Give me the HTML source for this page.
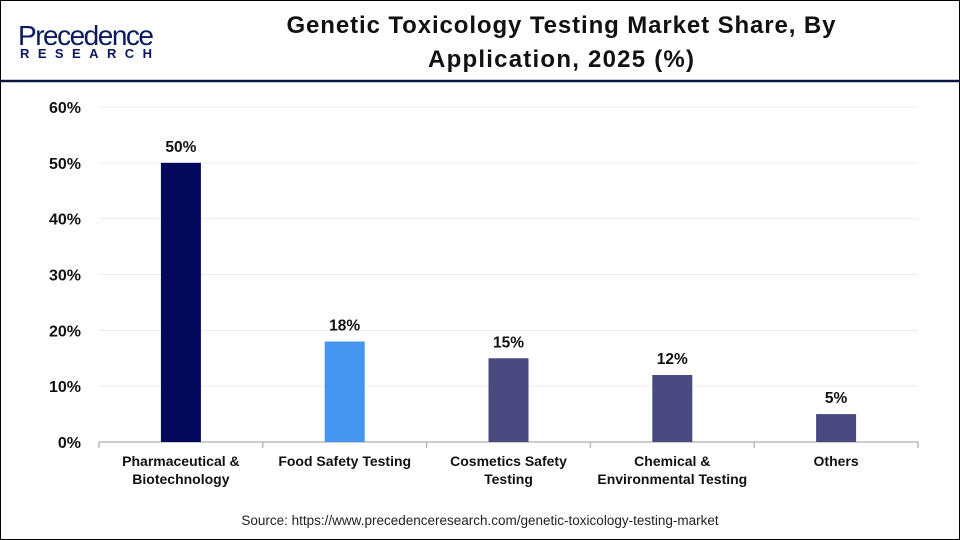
<!DOCTYPE html>
<html><head><meta charset="utf-8"><style>
body{margin:0;width:960px;height:540px;overflow:hidden;background:#fff;font-family:"Liberation Sans",sans-serif}
#frame{position:absolute;left:0;top:0;width:958px;height:538px;border:1px solid #000}
</style></head><body>
<div id="frame"></div>
<svg width="960" height="540" style="position:absolute;left:0;top:0">
<g>
<text x="18" y="45" font-size="28" fill="#0a1a5c" textLength="136">Precedence</text>
<text x="20" y="58" font-size="13" font-weight="bold" fill="#0a1a5c" textLength="132">RESEARCH</text>
</g>
<line x1="1" y1="81" x2="959" y2="81" stroke="#0a1440" stroke-width="2.5"/>
<text x="561" y="33" font-size="24" font-weight="bold" text-anchor="middle" fill="#111" textLength="549">Genetic Toxicology Testing Market Share, By</text>
<text x="561" y="67" font-size="24" font-weight="bold" text-anchor="middle" fill="#111" textLength="266">Application, 2025 (%)</text>
<g id="grid"></g><g id="bars"></g><g id="axes"></g>
<text x="480" y="525" font-size="13.5" text-anchor="middle" fill="#222">Source: https://www.precedenceresearch.com/genetic-toxicology-testing-market</text>
</svg>
<script>
const categories=[["Pharmaceutical &","Biotechnology"],["Food Safety Testing"],["Cosmetics Safety","Testing"],["Chemical &","Environmental Testing"],["Others"]];
const values=[50,18,15,12,5];
const colors=["#03085a","#4696f0","#4a4a80","#4a4a80","#4a4a80"];
const yTicks=[0,10,20,30,40,50,60];
const ns="http://www.w3.org/2000/svg";
const x0=99,x1=918,y0=442,yTop=107,yMax=60;
const band=(x1-x0)/categories.length;
const y=v=>y0-(y0-yTop)*v/yMax;
function mk(t,a,p,txt){const e=document.createElementNS(ns,t);for(const k in a)e.setAttribute(k,a[k]);if(txt!==undefined)e.textContent=txt;p.appendChild(e);return e;}
const G=document.getElementById('grid'),B=document.getElementById('bars'),A=document.getElementById('axes');
yTicks.forEach(t=>{
 const l=mk('line',{x1:x0,x2:x1,y1:y(t),y2:y(t),stroke:t?'#ececec':'#bbb','stroke-width':t?1:1.5},G);
 
 
 const tx=mk('text',{x:81,y:y(t)+6,'font-size':16,'font-weight':'bold','text-anchor':'end',fill:'#111'},A,t+'%');
 
 
});
for(let i=0;i<=categories.length;i++){
 const l=mk('line',{x1:x0+i*band,x2:x0+i*band,y1:y0,y2:y0+6,stroke:'#bbb','stroke-width':1.5},A);
 
 
}
values.forEach((v,i)=>{
 const cx=x0+band*(i+0.5);
 const r=mk('rect',{x:cx-20,y:y(v),width:40,height:y0-y(v),fill:colors[i]},B);
 
 
 const lb=mk('text',{x:cx,y:y(v)-11,'font-size':15.5,'font-weight':'bold','text-anchor':'middle',fill:'#111'},B,v+'%');
 
 
 categories[i].forEach((s,j)=>{
  const c=mk('text',{x:cx,y:466+j*18,'font-size':14,'font-weight':'bold','text-anchor':'middle',fill:'#111'},A,s);
  
  
 });
});
</script>
</body></html>
